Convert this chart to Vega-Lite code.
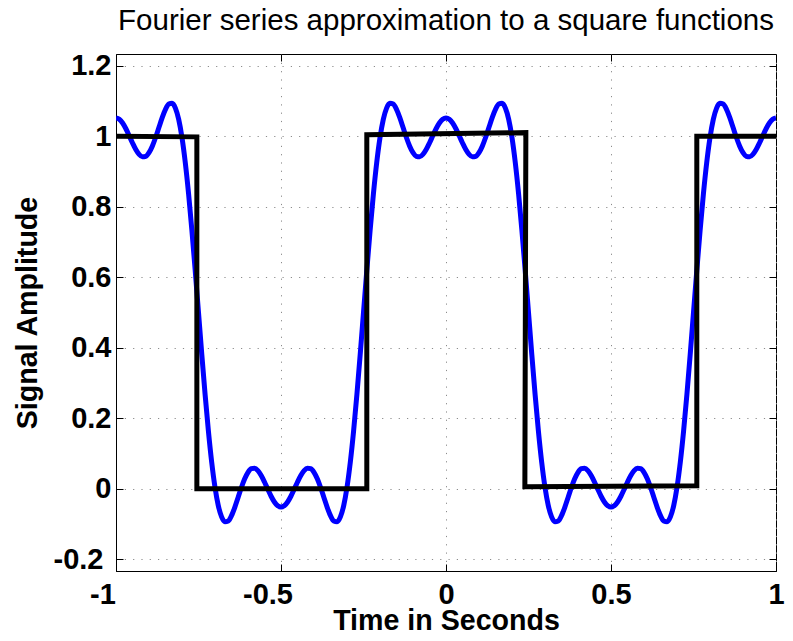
{
  "$schema": "https://vega.github.io/schema/vega-lite/v6.json",
  "width": 660,
  "height": 517,
  "autosize": {"type": "none"},
  "padding": {"left": 116, "top": 54, "right": 17, "bottom": 70},
  "background": "white",
  "title": {
    "text": "Fourier series approximation to a square functions",
    "font": "Liberation Sans",
    "fontSize": 29.5,
    "fontWeight": "normal",
    "color": "black",
    "anchor": "middle",
    "frame": "group",
    "baseline": "alphabetic",
    "offset": 24,
    "dy": 32
  },
  "config": {
    "view": {"stroke": "black", "strokeWidth": 1},
    "axis": {
      "labelFont": "Liberation Sans",
      "labelFontSize": 29,
      "labelFontWeight": "bold",
      "labelColor": "black",
      "titleFont": "Liberation Sans",
      "titleFontSize": 28.6,
      "titleFontWeight": "bold",
      "titleColor": "black",
      "domainColor": "black",
      "domainWidth": 1,
      "tickColor": "black",
      "tickWidth": 1,
      "tickSize": -7,
      "labelFlush": false,
      "labelOverlap": false,
      "gridColor": "#8c8c8c",
      "gridOpacity": 1,
      "gridWidth": 1,
      "gridDash": [1.2, 7.1]
    }
  },
  "datasets": {
    "fourier": [
      {"t": -1, "y": 1.0517}, {"t": -0.99, "y": 1.048}, {"t": -0.98, "y": 1.0373}, {"t": -0.97, "y": 1.021}, {"t": -0.96, "y": 1.0013},
      {"t": -0.95, "y": 0.9807}, {"t": -0.94, "y": 0.9622}, {"t": -0.93, "y": 0.9484}, {"t": -0.92, "y": 0.9416}, {"t": -0.91, "y": 0.943},
      {"t": -0.9, "y": 0.9533}, {"t": -0.89, "y": 0.9717}, {"t": -0.88, "y": 0.9963}, {"t": -0.87, "y": 1.0245}, {"t": -0.86, "y": 1.0524},
      {"t": -0.85, "y": 1.076}, {"t": -0.84, "y": 1.091}, {"t": -0.83, "y": 1.0933}, {"t": -0.82, "y": 1.0796}, {"t": -0.81, "y": 1.0475},
      {"t": -0.8, "y": 0.9957}, {"t": -0.79, "y": 0.9247}, {"t": -0.78, "y": 0.836}, {"t": -0.77, "y": 0.7327}, {"t": -0.76, "y": 0.6191},
      {"t": -0.75, "y": 0.5}, {"t": -0.74, "y": 0.3809}, {"t": -0.73, "y": 0.2673}, {"t": -0.72, "y": 0.164}, {"t": -0.71, "y": 0.0753},
      {"t": -0.7, "y": 0.0043}, {"t": -0.69, "y": -0.0475}, {"t": -0.68, "y": -0.0796}, {"t": -0.67, "y": -0.0933}, {"t": -0.66, "y": -0.091},
      {"t": -0.65, "y": -0.076}, {"t": -0.64, "y": -0.0524}, {"t": -0.63, "y": -0.0245}, {"t": -0.62, "y": 0.0037}, {"t": -0.61, "y": 0.0283},
      {"t": -0.6, "y": 0.0467}, {"t": -0.59, "y": 0.057}, {"t": -0.58, "y": 0.0584}, {"t": -0.57, "y": 0.0516}, {"t": -0.56, "y": 0.0378},
      {"t": -0.55, "y": 0.0193}, {"t": -0.54, "y": -0.0013}, {"t": -0.53, "y": -0.021}, {"t": -0.52, "y": -0.0373}, {"t": -0.51, "y": -0.048},
      {"t": -0.5, "y": -0.0517},
      {"t": -0.49, "y": -0.048}, {"t": -0.48, "y": -0.0373}, {"t": -0.47, "y": -0.021}, {"t": -0.46, "y": -0.0013}, {"t": -0.45, "y": 0.0193},
      {"t": -0.44, "y": 0.0378}, {"t": -0.43, "y": 0.0516}, {"t": -0.42, "y": 0.0584}, {"t": -0.41, "y": 0.057}, {"t": -0.4, "y": 0.0467},
      {"t": -0.39, "y": 0.0283}, {"t": -0.38, "y": 0.0037}, {"t": -0.37, "y": -0.0245}, {"t": -0.36, "y": -0.0524}, {"t": -0.35, "y": -0.076},
      {"t": -0.34, "y": -0.091}, {"t": -0.33, "y": -0.0933}, {"t": -0.32, "y": -0.0796}, {"t": -0.31, "y": -0.0475}, {"t": -0.3, "y": 0.0043},
      {"t": -0.29, "y": 0.0753}, {"t": -0.28, "y": 0.164}, {"t": -0.27, "y": 0.2673}, {"t": -0.26, "y": 0.3809}, {"t": -0.25, "y": 0.5},
      {"t": -0.24, "y": 0.6191}, {"t": -0.23, "y": 0.7327}, {"t": -0.22, "y": 0.836}, {"t": -0.21, "y": 0.9247}, {"t": -0.2, "y": 0.9957},
      {"t": -0.19, "y": 1.0475}, {"t": -0.18, "y": 1.0796}, {"t": -0.17, "y": 1.0933}, {"t": -0.16, "y": 1.091}, {"t": -0.15, "y": 1.076},
      {"t": -0.14, "y": 1.0524}, {"t": -0.13, "y": 1.0245}, {"t": -0.12, "y": 0.9963}, {"t": -0.11, "y": 0.9717}, {"t": -0.1, "y": 0.9533},
      {"t": -0.09, "y": 0.943}, {"t": -0.08, "y": 0.9416}, {"t": -0.07, "y": 0.9484}, {"t": -0.06, "y": 0.9622}, {"t": -0.05, "y": 0.9807},
      {"t": -0.04, "y": 1.0013}, {"t": -0.03, "y": 1.021}, {"t": -0.02, "y": 1.0373}, {"t": -0.01, "y": 1.048}, {"t": 0, "y": 1.0517},
      {"t": 0.01, "y": 1.048}, {"t": 0.02, "y": 1.0373}, {"t": 0.03, "y": 1.021}, {"t": 0.04, "y": 1.0013}, {"t": 0.05, "y": 0.9807},
      {"t": 0.06, "y": 0.9622}, {"t": 0.07, "y": 0.9484}, {"t": 0.08, "y": 0.9416}, {"t": 0.09, "y": 0.943}, {"t": 0.1, "y": 0.9533},
      {"t": 0.11, "y": 0.9717}, {"t": 0.12, "y": 0.9963}, {"t": 0.13, "y": 1.0245}, {"t": 0.14, "y": 1.0524}, {"t": 0.15, "y": 1.076},
      {"t": 0.16, "y": 1.091}, {"t": 0.17, "y": 1.0933}, {"t": 0.18, "y": 1.0796}, {"t": 0.19, "y": 1.0475}, {"t": 0.2, "y": 0.9957},
      {"t": 0.21, "y": 0.9247}, {"t": 0.22, "y": 0.836}, {"t": 0.23, "y": 0.7327}, {"t": 0.24, "y": 0.6191}, {"t": 0.25, "y": 0.5},
      {"t": 0.26, "y": 0.3809}, {"t": 0.27, "y": 0.2673}, {"t": 0.28, "y": 0.164}, {"t": 0.29, "y": 0.0753}, {"t": 0.3, "y": 0.0043},
      {"t": 0.31, "y": -0.0475}, {"t": 0.32, "y": -0.0796}, {"t": 0.33, "y": -0.0933}, {"t": 0.34, "y": -0.091}, {"t": 0.35, "y": -0.076},
      {"t": 0.36, "y": -0.0524}, {"t": 0.37, "y": -0.0245}, {"t": 0.38, "y": 0.0037}, {"t": 0.39, "y": 0.0283}, {"t": 0.4, "y": 0.0467},
      {"t": 0.41, "y": 0.057}, {"t": 0.42, "y": 0.0584}, {"t": 0.43, "y": 0.0516}, {"t": 0.44, "y": 0.0378}, {"t": 0.45, "y": 0.0193},
      {"t": 0.46, "y": -0.0013}, {"t": 0.47, "y": -0.021}, {"t": 0.48, "y": -0.0373}, {"t": 0.49, "y": -0.048}, {"t": 0.5, "y": -0.0517},
      {"t": 0.51, "y": -0.048}, {"t": 0.52, "y": -0.0373}, {"t": 0.53, "y": -0.021}, {"t": 0.54, "y": -0.0013}, {"t": 0.55, "y": 0.0193},
      {"t": 0.56, "y": 0.0378}, {"t": 0.57, "y": 0.0516}, {"t": 0.58, "y": 0.0584}, {"t": 0.59, "y": 0.057}, {"t": 0.6, "y": 0.0467},
      {"t": 0.61, "y": 0.0283}, {"t": 0.62, "y": 0.0037}, {"t": 0.63, "y": -0.0245}, {"t": 0.64, "y": -0.0524}, {"t": 0.65, "y": -0.076},
      {"t": 0.66, "y": -0.091}, {"t": 0.67, "y": -0.0933}, {"t": 0.68, "y": -0.0796}, {"t": 0.69, "y": -0.0475}, {"t": 0.7, "y": 0.0043},
      {"t": 0.71, "y": 0.0753}, {"t": 0.72, "y": 0.164}, {"t": 0.73, "y": 0.2673}, {"t": 0.74, "y": 0.3809}, {"t": 0.75, "y": 0.5},
      {"t": 0.76, "y": 0.6191}, {"t": 0.77, "y": 0.7327}, {"t": 0.78, "y": 0.836}, {"t": 0.79, "y": 0.9247}, {"t": 0.8, "y": 0.9957},
      {"t": 0.81, "y": 1.0475}, {"t": 0.82, "y": 1.0796}, {"t": 0.83, "y": 1.0933}, {"t": 0.84, "y": 1.091}, {"t": 0.85, "y": 1.076},
      {"t": 0.86, "y": 1.0524}, {"t": 0.87, "y": 1.0245}, {"t": 0.88, "y": 0.9963}, {"t": 0.89, "y": 0.9717}, {"t": 0.9, "y": 0.9533},
      {"t": 0.91, "y": 0.943}, {"t": 0.92, "y": 0.9416}, {"t": 0.93, "y": 0.9484}, {"t": 0.94, "y": 0.9622}, {"t": 0.95, "y": 0.9807},
      {"t": 0.96, "y": 1.0013}, {"t": 0.97, "y": 1.021}, {"t": 0.98, "y": 1.0373}, {"t": 0.99, "y": 1.048}, {"t": 1, "y": 1.0517}
    ],
    "square": [
      {"i": 0, "t": -1, "y": 1.0},
      {"i": 1, "t": -0.755, "y": 0.998},
      {"i": 2, "t": -0.755, "y": 0.0},
      {"i": 3, "t": -0.24, "y": 0.0},
      {"i": 4, "t": -0.24, "y": 1.004},
      {"i": 5, "t": 0.242, "y": 1.01},
      {"i": 6, "t": 0.239, "y": 0.006},
      {"i": 7, "t": 0.76, "y": 0.009},
      {"i": 8, "t": 0.76, "y": 1.0},
      {"i": 9, "t": 1, "y": 1.0}
    ]
  },
  "layer": [
    {
      "data": {"name": "fourier"},
      "mark": {"type": "line", "color": "#0000ff", "strokeWidth": 5, "clip": true, "interpolate": "monotone"},
      "encoding": {
        "x": {
          "field": "t", "type": "quantitative",
          "scale": {"domain": [-1, 1], "nice": false, "zero": false},
          "axis": {
            "orient": "bottom",
            "values": [-1, -0.5, 0, 0.5, 1],
            "grid": true,
            "title": "Time in Seconds",
            "titleBaseline": "alphabetic",
            "titleY": 58,
            "labelBaseline": "alphabetic",
            "labelPadding": 39,
            "labelOffset": {"condition": {"test": "datum.value < 0", "value": -13.5}, "value": 0},
            "labelExpr": "datum.value < 0 ? '-' + format(-datum.value, '') : format(datum.value, '')"
          }
        },
        "y": {
          "field": "y", "type": "quantitative",
          "scale": {"domain": [-0.233, 1.233], "nice": false, "zero": false},
          "axis": {
            "orient": "left",
            "values": [-0.2, 0, 0.2, 0.4, 0.6, 0.8, 1, 1.2],
            "grid": true,
            "title": "Signal Amplitude",
            "titleBaseline": "alphabetic",
            "titleX": -80,
            "labelBaseline": "middle",
            "labelPadding": {"condition": {"test": "datum.value < 0", "value": 20}, "value": 12},
            "labelExpr": "datum.value < 0 ? '-' + format(-datum.value, '') : format(datum.value, '')"
          }
        }
      }
    },
    {
      "data": {"name": "square"},
      "mark": {"type": "line", "color": "black", "strokeWidth": 5, "clip": true, "strokeJoin": "miter"},
      "encoding": {
        "x": {
          "field": "t", "type": "quantitative",
          "axis": {"orient": "top", "values": [-1, -0.5, 0, 0.5, 1], "labels": false, "title": null, "grid": false, "domain": false}
        },
        "y": {
          "field": "y", "type": "quantitative",
          "axis": {"orient": "right", "values": [-0.2, 0, 0.2, 0.4, 0.6, 0.8, 1, 1.2], "labels": false, "title": null, "grid": false, "domain": false}
        },
        "order": {"field": "i", "type": "quantitative"}
      }
    }
  ],
  "resolve": {"axis": {"x": "independent", "y": "independent"}}
}
